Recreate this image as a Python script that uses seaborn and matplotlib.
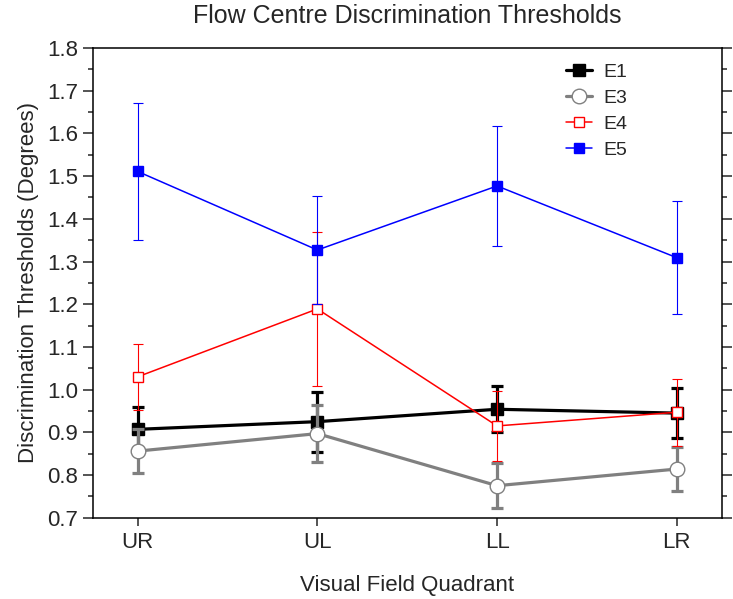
import matplotlib
matplotlib.use("Agg")
import matplotlib.pyplot as plt
import numpy as np
import pandas as pd
import seaborn as sns
from matplotlib.legend_handler import HandlerLine2D
from matplotlib.ticker import MultipleLocator, FormatStrFormatter

# data
quadrants = ["UR", "UL", "LL", "LR"]
e1 = [0.907, 0.925, 0.954, 0.945]
e1_err = [0.053, 0.070, 0.054, 0.058]
e3 = [0.856, 0.897, 0.775, 0.814]
e3_err = [0.052, 0.066, 0.052, 0.052]
e4 = [1.030, 1.189, 0.915, 0.947]
e4_err = [0.078, 0.180, 0.081, 0.079]
e5 = [1.511, 1.327, 1.477, 1.309]
e5_err = [0.161, 0.127, 0.141, 0.133]

series = {"E1": (e1, e1_err), "E3": (e3, e3_err), "E4": (e4, e4_err), "E5": (e5, e5_err)}

# style per series: colour, line width, marker, marker size, face colour, err width, capsize
styles = {
    "E1": dict(color="black", lw=2.3, marker="s", ms=9, mfc="black", elw=2.3, cap=4.2),
    "E3": dict(color="#808080", lw=2.3, marker="o", ms=10.5, mfc="white", elw=2.3, cap=4.2),
    "E4": dict(color="#ff0000", lw=1.1, marker="s", ms=7.5, mfc="white", elw=0.8, cap=3.4),
    "E5": dict(color="#0000ff", lw=1.1, marker="s", ms=7.5, mfc="#0000ff", elw=0.8, cap=3.4),
}

rows = []
for name, (vals, errs) in series.items():
    for i, q in enumerate(quadrants):
        rows.append({"series": name, "pos": i, "quadrant": q, "value": vals[i], "err": errs[i]})
df = pd.DataFrame(rows)

sns.set_style("ticks")
plt.rcParams["font.family"] = ["Liberation Sans", "DejaVu Sans"]

fig = plt.figure(figsize=(7.33, 5.99), dpi=100)
ax = fig.add_axes([0.1265, 0.1357, 0.8581, 0.7841])

handles = []
for z, (name, st) in enumerate(styles.items()):
    sub = df[df["series"] == name]
    ax.errorbar(sub["pos"], sub["value"], yerr=sub["err"], fmt="none",
                ecolor=st["color"], elinewidth=st["elw"], capsize=st["cap"],
                capthick=st["elw"], zorder=2 + z)
    sns.lineplot(data=sub, x="pos", y="value", ax=ax, color=st["color"], lw=st["lw"],
                 marker=st["marker"], markersize=st["ms"], markerfacecolor=st["mfc"],
                 markeredgecolor=st["color"], markeredgewidth=1.0,
                 zorder=2.5 + z, legend=False)
    handles.append(ax.lines[-1])


class MarkerAtEnd(HandlerLine2D):
    # legend line with the marker sitting at its right end
    def get_xdata(self, legend, xdescent, ydescent, width, height, fontsize):
        return [-xdescent, -xdescent + width], [-xdescent + width]


leg = ax.legend(handles, list(styles.keys()), loc="upper left", bbox_to_anchor=(0.752, 0.968),
                frameon=False, fontsize=14, handlelength=1.35, handletextpad=0.6,
                labelspacing=0.44, borderpad=0, borderaxespad=0,
                handler_map={h: MarkerAtEnd() for h in handles})

ax.set_xlim(-0.25, 3.25)
ax.set_ylim(0.7, 1.8)
ax.set_xticks(range(len(quadrants)))
ax.set_xticklabels(quadrants)
ax.yaxis.set_major_locator(MultipleLocator(0.1))
ax.yaxis.set_minor_locator(MultipleLocator(0.05))
ax.yaxis.set_major_formatter(FormatStrFormatter("%.1f"))
ax.tick_params(axis="y", which="both", right=True, direction="out", labelsize=16)
ax.tick_params(axis="y", which="major", length=7, width=1.1)
ax.tick_params(axis="y", which="minor", length=3.5, width=1.1)
ax.tick_params(axis="x", which="major", length=6, width=1.1, labelsize=16, pad=4)
for s in ax.spines.values():
    s.set_linewidth(1.1)
    s.set_color("black")

ax.set_xlabel("Visual Field Quadrant", fontsize=16, labelpad=16)
ax.set_ylabel("Discrimination Thresholds (Degrees)", fontsize=16, labelpad=6)
ax.set_title("Flow Centre Discrimination Thresholds", fontsize=18, pad=18)

fig.savefig("out.png", dpi=100)
